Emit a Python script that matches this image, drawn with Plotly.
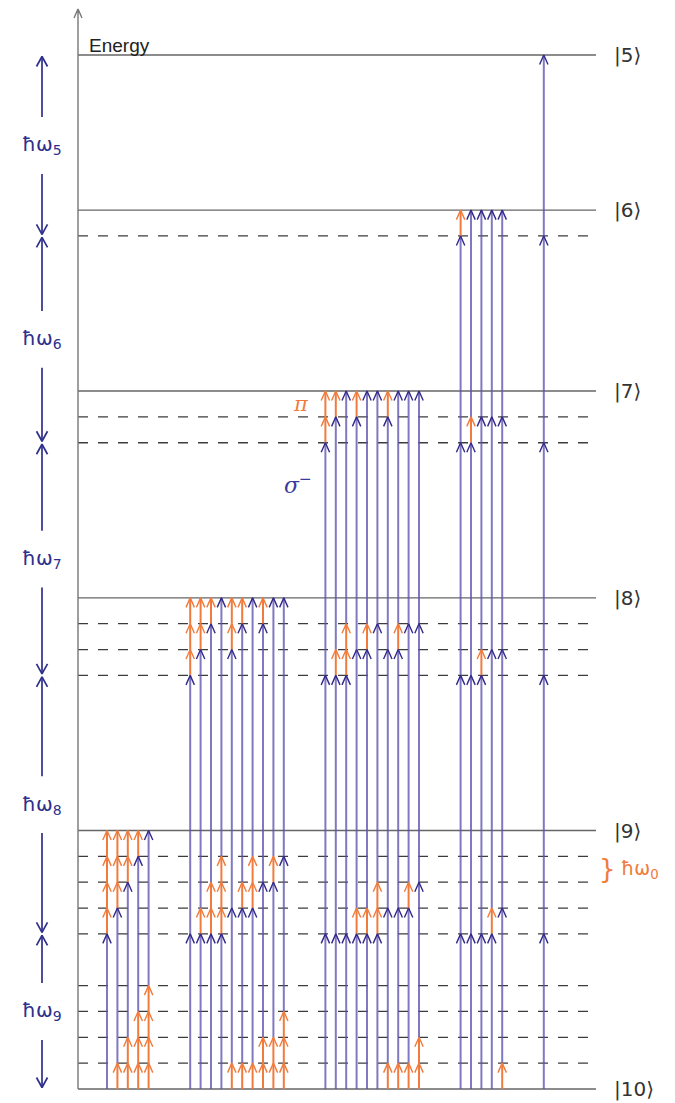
import plotly.graph_objects as go

# ---------------- data ----------------
# energies in units of the π-photon energy ħω0, ground state |10> = 0
state_labels = ["|5⟩", "|6⟩", "|7⟩", "|8⟩", "|9⟩", "|10⟩"]
state_energy = [40, 34, 27, 19, 10, 0]
virtual_energy = [33, 26, 25, 18, 17, 16, 9, 8, 7, 6, 4, 3, 2, 1]
sigma_labels = ["ħω<sub>9</sub>", "ħω<sub>8</sub>", "ħω<sub>7</sub>", "ħω<sub>6</sub>", "ħω<sub>5</sub>"]
sigma_energy = [6, 10, 9, 8, 7]
pi_energy = 1
# number of π photons absorbed before the 1st σ-, between σ- photons, after the last σ- (one tuple per column)
paths_to_9 = [(0, 4), (1, 3), (2, 2), (3, 1), (4, 0)]
paths_to_8 = [(0, 0, 3), (0, 1, 2), (0, 2, 1), (0, 3, 0), (1, 0, 2),
              (1, 1, 1), (1, 2, 0), (2, 0, 1), (2, 1, 0), (3, 0, 0)]
paths_to_7 = [(0, 0, 0, 2), (0, 0, 1, 1), (0, 0, 2, 0), (0, 1, 0, 1), (0, 1, 1, 0),
              (0, 2, 0, 0), (1, 0, 0, 1), (1, 0, 1, 0), (1, 1, 0, 0), (2, 0, 0, 0)]
paths_to_6 = [(0, 0, 0, 0, 1), (0, 0, 0, 1, 0), (0, 0, 1, 0, 0), (0, 1, 0, 0, 0), (1, 0, 0, 0, 0)]
paths_to_5 = [(0, 0, 0, 0, 0, 0)]
groups = [paths_to_9, paths_to_8, paths_to_7, paths_to_6, paths_to_5]

# ---------------- layout constants (pixels) ----------------
W, H = 675, 1103
X0_PX, DX_PX = 107.0, 10.4      # first column, column pitch
Y0_PX, DY_PX = 1089.0, 25.85    # ground level, pixels per ħω0
GROUP_GAP = 4

def xd(px):
    return (px - X0_PX) / DX_PX

def yd(py):
    return (Y0_PX - py) / DY_PX

x_axis = xd(78)
x_end = xd(596)

BLUE_LINE = "rgba(92,82,176,0.78)"
BLUE_HEAD = "#33298a"
ORANGE = "#f07b3c"
LEVEL = "#666666"
DASH = "#3c3c3c"
LABEL_BLUE = "#2f2f8c"

hdx, hdy = 4.2 / DX_PX, 9.5 / DY_PX   # chevron size for photon arrows

bx, by, ox, oy = [], [], [], []
bhx, bhy, ohx, ohy = [], [], [], []

def head(lx, ly, x, e, sx, sy, up=True):
    s = 1 if up else -1
    lx += [x - sx, x, x + sx, None]
    ly += [e - s * sy, e, e - s * sy, None]

col = 0
for g in groups:
    n_sigma = len(g[0]) - 1
    for slots in g:
        e = 0
        for i, npi in enumerate(slots):
            for _ in range(npi):
                ox += [col, col, None]
                oy += [e, e + pi_energy, None]
                e += pi_energy
                head(ohx, ohy, col, e, hdx, hdy)
            if i < n_sigma:
                bx += [col, col, None]
                by += [e, e + sigma_energy[i], None]
                e += sigma_energy[i]
                head(bhx, bhy, col, e, hdx, hdy)
        col += 1
    col += GROUP_GAP - 1

fig = go.Figure()

# levels
for e in state_energy:
    fig.add_trace(go.Scatter(x=[x_axis, x_end], y=[e, e], mode="lines",
                             line=dict(color=LEVEL, width=1.4), hoverinfo="skip"))
for e in virtual_energy:
    fig.add_trace(go.Scatter(x=[x_axis, x_end], y=[e, e], mode="lines",
                             line=dict(color=DASH, width=1.3, dash="10px,10px"), hoverinfo="skip"))

# energy axis with arrow
y_top = yd(9)
ax_x, ax_y = [x_axis, x_axis], [0, y_top]
head(ax_x, ax_y, x_axis, y_top, 4 / DX_PX, 9 / DY_PX)
fig.add_trace(go.Scatter(x=ax_x, y=ax_y, mode="lines",
                         line=dict(color="#777777", width=1.4), hoverinfo="skip"))

# photon arrows
fig.add_trace(go.Scatter(x=bx, y=by, mode="lines", line=dict(color=BLUE_LINE, width=2.0), hoverinfo="skip"))
fig.add_trace(go.Scatter(x=ox, y=oy, mode="lines", line=dict(color=ORANGE, width=2.0), hoverinfo="skip"))
fig.add_trace(go.Scatter(x=bhx, y=bhy, mode="lines", line=dict(color=BLUE_HEAD, width=1.4), hoverinfo="skip"))
fig.add_trace(go.Scatter(x=ohx, y=ohy, mode="lines", line=dict(color=ORANGE, width=1.4), hoverinfo="skip"))

# left dimension arrows ħω_k
lx_, ly_ = [], []
x_left = xd(42)
gap = 1.1
inset = 1.5 / DY_PX
annotations = []
e_lo = 0
for lab, de in zip(sigma_labels, sigma_energy):
    e_hi = e_lo + de
    mid = (e_lo + e_hi) / 2
    lx_ += [x_left, x_left, None]
    ly_ += [mid + gap, e_hi - inset, None]
    head(lx_, ly_, x_left, e_hi - inset, 5.5 / DX_PX, 10 / DY_PX)
    lx_ += [x_left, x_left, None]
    ly_ += [mid - gap, e_lo + inset, None]
    head(lx_, ly_, x_left, e_lo + inset, 5.5 / DX_PX, 10 / DY_PX, up=False)
    annotations.append(dict(x=x_left, y=mid, text=lab, showarrow=False,
                            font=dict(size=20, color=LABEL_BLUE, family="DejaVu Sans"),
                            xanchor="center", yanchor="middle"))
    e_lo = e_hi
fig.add_trace(go.Scatter(x=lx_, y=ly_, mode="lines", line=dict(color=LABEL_BLUE, width=1.7), hoverinfo="skip"))

# state labels
for lab, e in zip(state_labels, state_energy):
    annotations.append(dict(x=xd(612), y=e, text=lab, showarrow=False,
                            font=dict(size=20, color="#333333", family="DejaVu Sans"),
                            xanchor="left", yanchor="middle"))

annotations += [
    dict(x=xd(87), y=yd(45), text="Energy", showarrow=False,
         font=dict(size=19, color="#222222", family="Liberation Sans"), xanchor="left", yanchor="middle"),
    dict(x=xd(311), y=yd(404), text="<i>π</i>", showarrow=False,
         font=dict(size=21, color=ORANGE, family="DejaVu Serif"), xanchor="right", yanchor="middle"),
    dict(x=xd(314), y=yd(484), text="<i>σ</i><sup>−</sup>", showarrow=False,
         font=dict(size=22, color="#3a3a9a", family="DejaVu Serif"), xanchor="right", yanchor="middle"),
    dict(x=xd(597), y=8.5, text="}", showarrow=False,
         font=dict(size=26, color=ORANGE, family="DejaVu Sans"), xanchor="left", yanchor="middle"),
    dict(x=xd(619), y=8.5, text="ħω<sub>0</sub>", showarrow=False,
         font=dict(size=19, color=ORANGE, family="DejaVu Sans"), xanchor="left", yanchor="middle"),
]

fig.update_layout(
    width=W, height=H, margin=dict(l=0, r=0, t=0, b=0),
    paper_bgcolor="white", plot_bgcolor="white", showlegend=False,
    xaxis=dict(range=[xd(0), xd(W)], visible=False, fixedrange=True),
    yaxis=dict(range=[yd(H), yd(0)], visible=False, fixedrange=True),
    annotations=annotations,
)

fig.write_html("out.html", config={"displayModeBar": False},
               post_script="document.body.style.margin='0px';document.body.style.overflow='hidden';")
